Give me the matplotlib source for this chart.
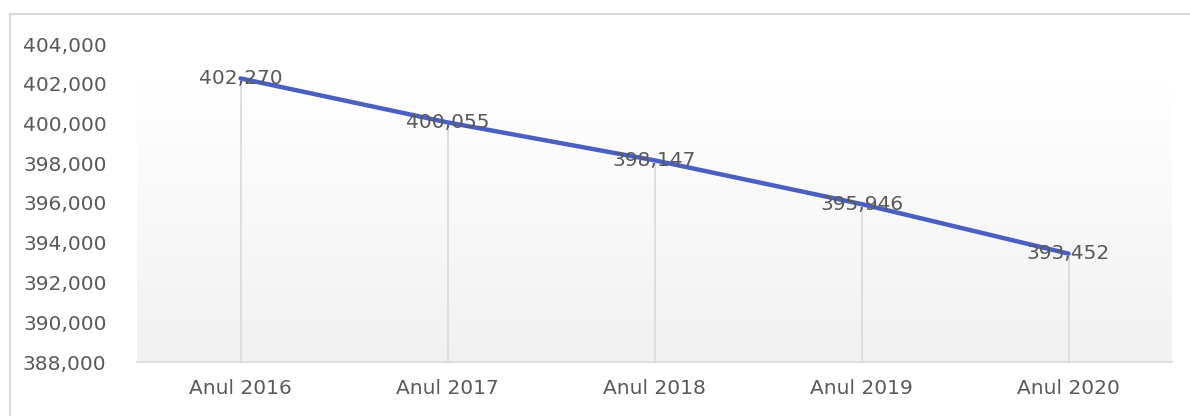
import numpy as np
import matplotlib.pyplot as plt
from matplotlib.lines import Line2D
from matplotlib.colors import LinearSegmentedColormap

categorii = ['Anul 2016', 'Anul 2017', 'Anul 2018', 'Anul 2019', 'Anul 2020']
valori = [402270, 400055, 398147, 395946, 393452]
ticks_y = [388000, 390000, 392000, 394000, 396000, 398000, 400000, 402000, 404000]

plt.rcParams['font.family'] = 'DejaVu Sans'

fig = plt.figure(figsize=(11.9, 4.16), dpi=100)
# chenarul graficului: se vad doar marginea de sus si cea din stanga
x0, y0 = 9.5 / 1190, 1 - 13.5 / 416
fig.lines.append(Line2D([x0, 1], [y0, y0], transform=fig.transFigure, color='#d9d9d9', linewidth=1.5))
fig.lines.append(Line2D([x0, x0], [0, y0], transform=fig.transFigure, color='#d9d9d9', linewidth=1.5))

ax = fig.add_axes([137 / 1190, 1 - 362 / 416, (1172 - 137) / 1190, (362 - 44) / 416])
x = np.arange(len(categorii)) + 0.5
ax.set_xlim(0, len(categorii))
ax.set_ylim(ticks_y[0], ticks_y[-1])

# fundal cu degradeu (gri jos, alb sus)
grad = np.linspace(0, 1, 256).reshape(-1, 1)
cm = LinearSegmentedColormap.from_list('g', ['#f1f1f1', '#ffffff'])
ax.imshow(grad, cmap=cm, extent=[0, len(categorii), ticks_y[0], 402000],
          aspect='auto', origin='lower', zorder=0)

ax.vlines(x, ticks_y[0], valori, color='#d9d9d9', linewidth=1.2, zorder=1)
ax.plot(x, valori, color='#4a5fc1', linewidth=3.2, solid_capstyle='round', zorder=3)

for xi, v in zip(x, valori):
    ax.text(xi, v, f'{v:,}', ha='center', va='center', fontsize=14.5, color='#595959', zorder=4)

ax.set_xticks(x)
ax.set_xticklabels(categorii)
ax.set_yticks(ticks_y)
ax.set_yticklabels([f'{t:,}' for t in ticks_y])
ax.tick_params(axis='both', length=0, labelsize=14.5, labelcolor='#595959')
ax.tick_params(axis='x', pad=12)
ax.tick_params(axis='y', pad=22)
for s in ['top', 'right', 'left']:
    ax.spines[s].set_visible(False)
ax.spines['bottom'].set_color('#d9d9d9')
ax.spines['bottom'].set_linewidth(1.2)

fig.savefig('out.png', dpi=100)
